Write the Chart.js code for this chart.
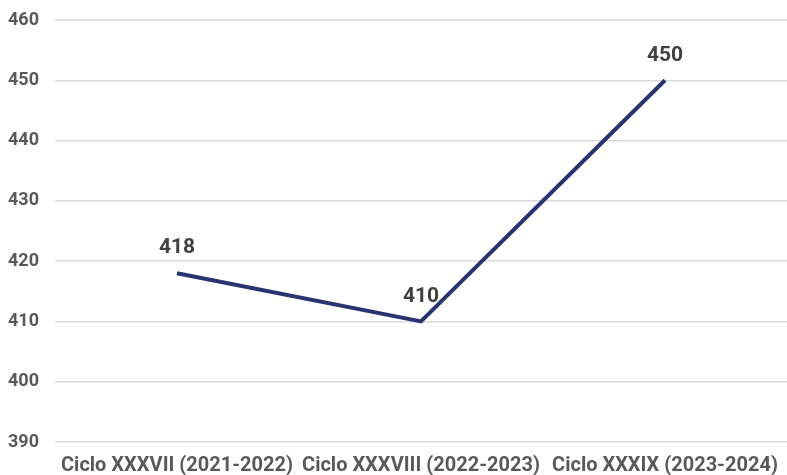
<!DOCTYPE html>
<html>
<head>
<meta charset="utf-8">
<script src="https://cdn.jsdelivr.net/npm/chart.js@4/dist/chart.umd.min.js"></script>
<style>
  html, body { margin: 0; padding: 0; background: #ffffff; }
  #wrap { width: 787px; height: 475px; }
</style>
</head>
<body>
<div id="wrap"><canvas id="c" width="787" height="475"></canvas></div>
<script>
const cycles = ['Ciclo XXXVII (2021-2022)', 'Ciclo XXXVIII (2022-2023)', 'Ciclo XXXIX (2023-2024)'];
const scores = [418, 410, 450];
const yTicks = [390, 400, 410, 420, 430, 440, 450, 460];

const FONT = 'Roboto, "Liberation Sans", sans-serif';

// Writes each point's value above it
const valueLabels = {
  id: 'valueLabels',
  afterDatasetsDraw(chart) {
    const { ctx } = chart;
    const meta = chart.getDatasetMeta(0);
    ctx.save();
    ctx.font = 'bold 21px ' + FONT;
    ctx.fillStyle = '#404040';
    ctx.textAlign = 'center';
    ctx.textBaseline = 'middle';
    meta.data.forEach((pt, i) => {
      ctx.fillText(String(chart.data.datasets[0].data[i]), pt.x, pt.y - 25);
    });
    ctx.restore();
  }
};

new Chart(document.getElementById('c'), {
  type: 'line',
  data: {
    labels: cycles,
    datasets: [{
      data: scores,
      borderColor: '#28346f',
      borderWidth: 4,
      pointRadius: 0,
      tension: 0,
      fill: false
    }]
  },
  options: {
    responsive: false,
    animation: false,
    layout: { padding: { top: 20, right: 0, bottom: 0, left: 0 } },
    plugins: { legend: { display: false }, tooltip: { enabled: false } },
    scales: {
      x: {
        offset: true,
        grid: { display: false, drawTicks: false },
        border: { display: false },
        ticks: {
          autoSkip: false,
          maxRotation: 0,
          minRotation: 0,
          padding: 12,
          color: '#595959',
          font: { family: FONT, size: 20, weight: 'bold' }
        },
        afterFit(scale) {
          scale.height = 33;
          scale.paddingLeft = 0;
          scale.paddingRight = 0;
        }
      },
      y: {
        min: yTicks[0],
        max: yTicks[yTicks.length - 1],
        afterBuildTicks(scale) { scale.ticks = yTicks.map(v => ({ value: v })); },
        grid: { color: '#d9d9d9', lineWidth: 1.5, drawTicks: false },
        border: { display: false },
        ticks: {
          padding: 16,
          color: '#595959',
          font: { family: FONT, size: 18, weight: 'bold' }
        },
        afterFit(scale) {
          scale.width = 55;
          scale.paddingTop = 0;
          scale.paddingBottom = 0;
        }
      }
    }
  },
  plugins: [valueLabels]
});
</script>
</body>
</html>
